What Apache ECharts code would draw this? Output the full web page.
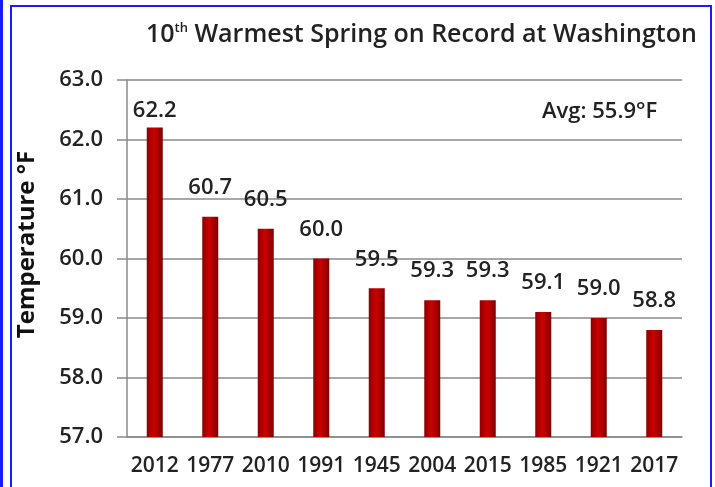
<!DOCTYPE html>
<html>
<head>
<meta charset="utf-8">
<script src="https://cdn.jsdelivr.net/npm/echarts@6/dist/echarts.min.js"></script>
<style>
  html, body { margin: 0; padding: 0; background: #fff; }
  #chart { width: 715px; height: 487px; }
</style>
</head>
<body>
<div id="chart"></div>
<script>
// data
const years = ['2012', '1977', '2010', '1991', '1945', '2004', '2015', '1985', '1921', '2017'];
const temps = [62.2, 60.7, 60.5, 60.0, 59.5, 59.3, 59.3, 59.1, 59.0, 58.8];
const yTicks = [57, 58, 59, 60, 61, 62, 63];

const chart = echarts.init(document.getElementById('chart'));
const font = 'Open Sans';
const gray = '#8a8a8a';

// the top label sits closer to its bar in the original
const barData = temps.map((v, i) => i === 0 ? { value: v, label: { distance: 6 } } : v);

const option = {
  animation: false,
  title: [
    {
      text: '10{sup|th} Warmest Spring on Record at Washington',
      left: 141,
      top: 17,
      textStyle: {
        fontFamily: font, fontSize: 25, fontWeight: 600, color: '#222',
        rich: {
          sup: { fontFamily: font, fontSize: 13, fontWeight: 600, color: '#222', verticalAlign: 'top', padding: [0, 0, 10, 0] }
        }
      }
    },
    {
      text: 'Avg: 55.9°F',
      left: 537,
      top: 96,
      textStyle: { fontFamily: font, fontSize: 22, fontWeight: 600, color: '#222' }
    }
  ],
  grid: { left: 127, right: 33, top: 80, bottom: 50 },
  xAxis: {
    type: 'category',
    data: years,
    axisLine: { lineStyle: { color: gray, width: 1.5 } },
    axisTick: { interval: 1, length: 8, lineStyle: { color: gray, width: 1.5 } },
    axisLabel: { interval: 0, margin: 19, fontFamily: font, fontSize: 21, fontWeight: 600, color: '#222' }
  },
  yAxis: {
    type: 'value',
    min: yTicks[0],
    max: yTicks[yTicks.length - 1],
    interval: 1,
    name: 'Temperature °F',
    nameLocation: 'middle',
    nameRotate: 90,
    nameGap: 88,
    nameTextStyle: { fontFamily: font, fontSize: 24, fontWeight: 'bold', color: '#111', padding: [0, 0, 0, 28] },
    axisLine: { show: true, lineStyle: { color: gray, width: 1.5 } },
    axisTick: { show: true, length: 10, lineStyle: { color: gray, width: 1.5 } },
    splitLine: { lineStyle: { color: gray, width: 1.5 } },
    axisLabel: {
      margin: 24, fontFamily: font, fontSize: 22, fontWeight: 600, color: '#222',
      formatter: v => v.toFixed(1)
    }
  },
  series: [{
    type: 'bar',
    data: barData,
    barWidth: 16,
    itemStyle: {
      color: new echarts.graphic.LinearGradient(0, 0, 1, 0, [
        { offset: 0, color: '#8e0000' },
        { offset: 0.45, color: '#cc0000' },
        { offset: 1, color: '#800000' }
      ])
    },
    label: {
      show: true,
      position: 'top',
      distance: 18,
      fontFamily: font, fontSize: 22, fontWeight: 600, color: '#222',
      formatter: p => p.value.toFixed(1)
    }
  }],
  graphic: [
    { type: 'rect', shape: { x: 0, y: 0, width: 3, height: 487 }, style: { fill: '#1a1aff' } },
    { type: 'rect', shape: { x: 11, y: 6, width: 700, height: 500 }, style: { fill: 'none', stroke: '#1a1aff', lineWidth: 2 } }
  ]
};

chart.setOption(option);
</script>
</body>
</html>
